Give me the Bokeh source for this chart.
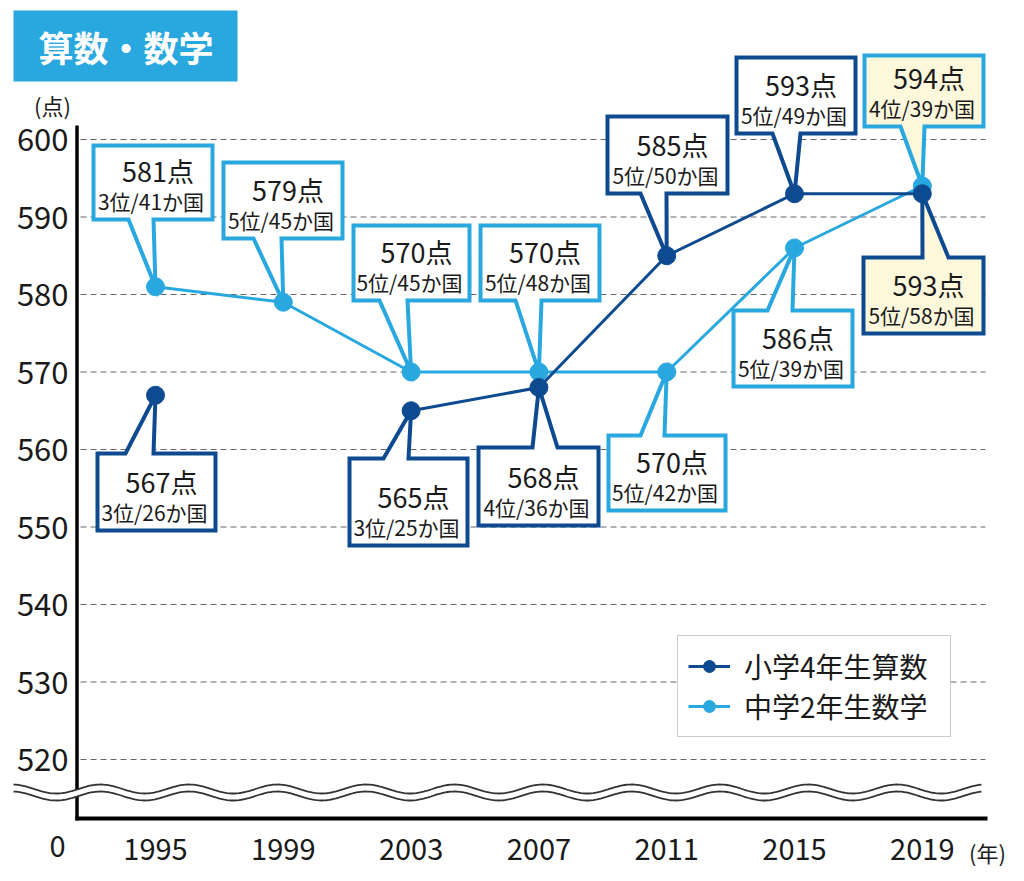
import numpy as np
from bokeh.plotting import figure
from bokeh.models import Range1d, Legend, LegendItem
from bokeh.core.properties import value
from bokeh.embed import file_html
from bokeh.resources import INLINE

# ---------------- data ----------------
years = [1995, 1999, 2003, 2007, 2011, 2015, 2019]
x_labels = ["1995", "1999", "2003", "2007", "2011", "2015", "2019"]
elem_scores = [567, np.nan, 565, 568, 585, 593, 593]
elem_ranks = ["3位/26か国", "", "3位/25か国", "4位/36か国", "5位/50か国", "5位/49か国", "5位/58か国"]
jr_scores = [581, 579, 570, 570, 570, 586, 594]
jr_ranks = ["3位/41か国", "5位/45か国", "5位/45か国", "5位/48か国", "5位/42か国", "5位/39か国", "4位/39か国"]
y_ticks = [520, 530, 540, 550, 560, 570, 580, 590, 600]
elem_name = "小学4年生算数"
jr_name = "中学2年生数学"
title_text = "算数・数学"
y_unit = "(点)"
x_unit = "(年)"
zero_label = "0"

# ---------------- style ----------------
DARK = "#0e4a90"
LIGHT = "#29a8e0"
CREAM = "#fdf8dc"
TXT = "#1a1a1a"
FONT = value("Noto Sans CJK JP")

W, H = 1016, 873
X_PER_YEAR = 31.95
Y_PER_PT = 7.75


def xd(X):
    return 1995 + (np.asarray(X, dtype=float) - 155) / X_PER_YEAR


def yd(Y):
    return 600 - (np.asarray(Y, dtype=float) - 139) / Y_PER_PT


p = figure(width=W, height=H, title=None,
           x_range=Range1d(float(xd(0)), float(xd(W))),
           y_range=Range1d(float(yd(H)), float(yd(0))),
           min_border=0, toolbar_location=None, output_backend="svg",
           x_axis_type=None, y_axis_type=None, outline_line_color=None)
p.background_fill_color = "white"

# grid lines
n = len(y_ticks)
p.segment(x0=[float(xd(80))] * n, x1=[float(xd(985))] * n, y0=y_ticks, y1=y_ticks,
          line_color="#666666", line_width=1, line_dash="6 4")

# axes lines
p.segment(x0=[float(xd(76.5))], x1=[float(xd(76.5))], y0=[float(yd(125))], y1=[float(yd(820))],
          line_color="black", line_width=3.5)
p.segment(x0=[float(xd(75))], x1=[float(xd(987))], y0=[float(yd(818))], y1=[float(yd(818))],
          line_color="black", line_width=4)

# axis break (wave)
Xw = np.linspace(13, 981, 400)
Yu = 788.5 - 4.5 * np.cos(2 * np.pi * (Xw - 100) / 88.5)
Yl = Yu + 7
p.varea(x=xd(Xw), y1=yd(Yu), y2=yd(Yl), fill_color="white")
p.line(xd(Xw), yd(Yu), line_color="#333333", line_width=1.8)
p.line(xd(Xw), yd(Yl), line_color="#333333", line_width=1.8)

# tick labels
p.text(x=[float(xd(68))] * n, y=y_ticks, text=[str(v) for v in y_ticks],
       text_align="right", text_baseline="middle", text_font=FONT,
       text_font_size="31px", text_color=TXT)
p.text(x=years, y=[float(yd(849))] * len(years), text=x_labels,
       text_align="center", text_baseline="middle", text_font=FONT,
       text_font_size="29px", text_color=TXT)
p.text(x=[float(xd(57))], y=[float(yd(846))], text=[zero_label],
       text_align="center", text_baseline="middle", text_font=FONT,
       text_font_size="29px", text_color=TXT)
p.text(x=[float(xd(52))], y=[float(yd(104))], text=[y_unit],
       text_align="center", text_baseline="middle", text_font=FONT,
       text_font_size="22px", text_color=TXT)
p.text(x=[float(xd(987))], y=[float(yd(851))], text=[x_unit],
       text_align="center", text_baseline="middle", text_font=FONT,
       text_font_size="22px", text_color=TXT)

# title box
p.quad(left=[float(xd(13))], right=[float(xd(237))], top=[float(yd(10))], bottom=[float(yd(81))],
       fill_color=LIGHT, line_color=None)
p.text(x=[float(xd(125.5))], y=[float(yd(46))], text=[title_text],
       text_align="center", text_baseline="middle", text_font=FONT,
       text_font_size="35px", text_font_style="bold", text_color="white")

# callout layout (page pixels): left, top, right, bottom, tail side, tail base x1, x2, fill
jr_boxes = [
    (93, 145, 212, 219, "bottom", 128, 153, "white"),
    (223, 162, 342, 238, "bottom", 253, 281, "white"),
    (353, 225, 469, 300, "bottom", 379, 407, "white"),
    (480, 225, 599, 300, "bottom", 515, 541, "white"),
    (608, 435, 725, 510, "top", 640, 664, "white"),
    (733, 310, 852, 386, "top", 767, 792, "white"),
    (864, 55, 983, 126, "bottom", 900, 924, CREAM),
]
elem_boxes = [
    (97, 453, 215, 530, "top", 125, 153, "white"),
    None,
    (349, 458, 467, 545, "top", 383, 408, "white"),
    (478, 447, 598, 525, "top", 532, 557, "white"),
    (607, 116, 727, 193, "bottom", 640, 666, "white"),
    (736, 57, 855, 133, "bottom", 772, 800, "white"),
    (863, 257, 983, 333, "top", 922, 948, CREAM),
]


def draw_callouts(boxes, scores, ranks, color):
    t1x, t1y, t1 = [], [], []
    t2x, t2y, t2 = [], [], []
    for box, yr, sc, rk in zip(boxes, years, scores, ranks):
        if box is None or np.isnan(sc):
            continue
        L, T, R, B, side, b1, b2, fill = box
        tip_x, tip_y = yr, sc
        if side == "bottom":
            px = [xd(L), xd(R), xd(R), xd(b2), tip_x, xd(b1), xd(L)]
            py = [yd(T), yd(T), yd(B), yd(B), tip_y, yd(B), yd(B)]
        else:
            px = [xd(L), xd(b1), tip_x, xd(b2), xd(R), xd(R), xd(L)]
            py = [yd(T), yd(T), tip_y, yd(T), yd(T), yd(B), yd(B)]
        p.patch([float(v) for v in px], [float(v) for v in py], fill_color=fill,
                line_color=color, line_width=4, line_join="miter")
        cx = (L + R) / 2
        t1x.append(float(xd(cx + 5)))
        t1y.append(float(yd(B - 49)))
        t1.append(f"{int(sc)}点")
        t2x.append(float(xd(cx - 2)))
        t2y.append(float(yd(B - 19)))
        t2.append(rk)
    p.text(x=t1x, y=t1y, text=t1, text_align="center", text_baseline="middle",
           text_font=FONT, text_font_size="27px", text_color=TXT)
    p.text(x=t2x, y=t2y, text=t2, text_align="center", text_baseline="middle",
           text_font=FONT, text_font_size="21px", text_color=TXT)


draw_callouts(jr_boxes, jr_scores, jr_ranks, LIGHT)
draw_callouts(elem_boxes, elem_scores, elem_ranks, DARK)

# series
jl = p.line(years, jr_scores, line_color=LIGHT, line_width=3)
js = p.scatter(years, jr_scores, size=18, fill_color=LIGHT, line_color=LIGHT)
el = p.line(years, elem_scores, line_color=DARK, line_width=3)
es = p.scatter(years, elem_scores, size=18, fill_color=DARK, line_color=DARK)

legend = Legend(items=[LegendItem(label=elem_name, renderers=[el, es]),
                       LegendItem(label=jr_name, renderers=[jl, js])],
                location=(677, H - 737), orientation="vertical")
legend.label_text_font = "Noto Sans CJK JP"
legend.label_text_font_size = "28px"
legend.label_text_color = TXT
legend.glyph_width = 42
legend.glyph_height = 30
legend.label_height = 30
legend.label_width = 196
legend.label_standoff = 14
legend.spacing = 0
legend.padding = 10
legend.margin = 0
legend.border_line_color = "#9a9a9a"
legend.border_line_width = 1.5
legend.background_fill_color = "white"
legend.background_fill_alpha = 1.0
p.add_layout(legend)

open("out.html", "w").write(file_html(p, INLINE))
